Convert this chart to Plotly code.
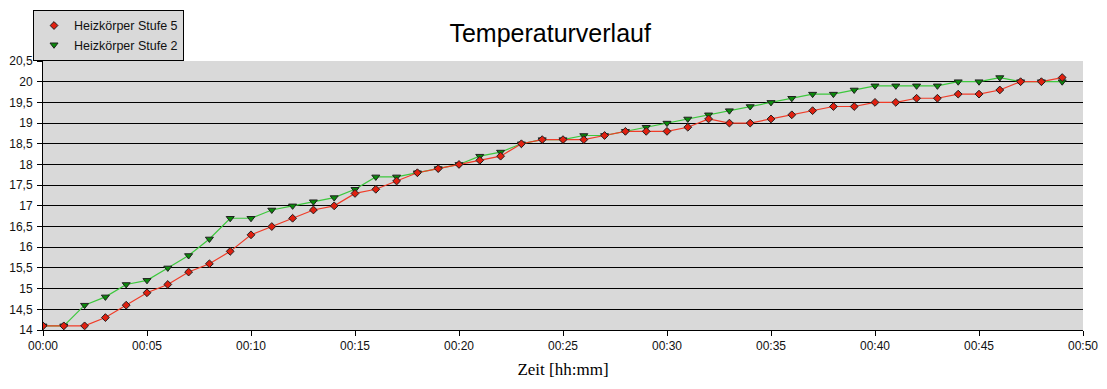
import plotly.graph_objects as go

minutes = list(range(50))
stufe5 = [14.1, 14.1, 14.1, 14.3, 14.6, 14.9, 15.1, 15.4, 15.6, 15.9,
          16.3, 16.5, 16.7, 16.9, 17.0, 17.3, 17.4, 17.6, 17.8, 17.9,
          18.0, 18.1, 18.2, 18.5, 18.6, 18.6, 18.6, 18.7, 18.8, 18.8,
          18.8, 18.9, 19.1, 19.0, 19.0, 19.1, 19.2, 19.3, 19.4, 19.4,
          19.5, 19.5, 19.6, 19.6, 19.7, 19.7, 19.8, 20.0, 20.0, 20.1]
stufe2 = [14.1, 14.1, 14.6, 14.8, 15.1, 15.2, 15.5, 15.8, 16.2, 16.7,
          16.7, 16.9, 17.0, 17.1, 17.2, 17.4, 17.7, 17.7, 17.8, 17.9,
          18.0, 18.2, 18.3, 18.5, 18.6, 18.6, 18.7, 18.7, 18.8, 18.9,
          19.0, 19.1, 19.2, 19.3, 19.4, 19.5, 19.6, 19.7, 19.7, 19.8,
          19.9, 19.9, 19.9, 19.9, 20.0, 20.0, 20.1, 20.0, 20.0, 20.0]
x_tickvals = [0, 5, 10, 15, 20, 25, 30, 35, 40, 45, 50]
x_ticktext = ["00:00", "00:05", "00:10", "00:15", "00:20", "00:25",
              "00:30", "00:35", "00:40", "00:45", "00:50"]
y_tickvals = [14, 14.5, 15, 15.5, 16, 16.5, 17, 17.5, 18, 18.5, 19, 19.5, 20, 20.5]
y_ticktext = ["14", "14,5", "15", "15,5", "16", "16,5", "17", "17,5",
              "18", "18,5", "19", "19,5", "20", "20,5"]

fig = go.Figure()
# lines (no legend)
fig.add_trace(go.Scatter(x=minutes, y=stufe2, mode="lines",
                         line=dict(color="#3cc83c", width=1.2),
                         showlegend=False, hoverinfo="skip"))
fig.add_trace(go.Scatter(x=minutes, y=stufe5, mode="lines",
                         line=dict(color="#f03c28", width=1.2),
                         showlegend=False, hoverinfo="skip"))
# markers (legend)
fig.add_trace(go.Scatter(x=minutes, y=stufe2, mode="markers",
                         name="Heizkörper Stufe 2",
                         marker=dict(symbol="triangle-down", size=7, color="#0a8a0a",
                                     line=dict(color="#202020", width=1))))
fig.add_trace(go.Scatter(x=minutes, y=stufe5, mode="markers",
                         name="Heizkörper Stufe 5",
                         marker=dict(symbol="diamond", size=6, color="#e02010",
                                     line=dict(color="#202020", width=1))))

fig.update_layout(
    width=1107, height=389,
    margin=dict(l=43, r=24, t=61, b=59, autoexpand=False),
    paper_bgcolor="white",
    plot_bgcolor="#d9d9d9",
    font=dict(family="Liberation Sans, Arial, sans-serif", size=12, color="#111111"),
    title=dict(text="Temperaturverlauf", x=0.497, xref="container", xanchor="center",
               y=1 - 33 / 389, yref="container", yanchor="middle",
               font=dict(family="Liberation Sans, Arial, sans-serif", size=25, color="black")),
    legend=dict(x=-0.0096, y=1.19, xanchor="left", yanchor="top",
                bgcolor="#d9d9d9", bordercolor="black", borderwidth=1,
                traceorder="reversed", itemwidth=30,
                font=dict(size=12.5, color="#111111"),
                tracegroupgap=0),
    xaxis=dict(range=[0, 50], tickvals=x_tickvals, ticktext=x_ticktext,
               showgrid=False, zeroline=False, automargin=False,
               showline=True, linecolor="black", linewidth=1,
               ticks="outside", ticklen=5, tickcolor="black",
               title=dict(text="Zeit [hh:mm]", standoff=10,
                          font=dict(family="Liberation Serif, Times New Roman, serif",
                                    size=17, color="black"))),
    yaxis=dict(range=[14, 20.5], tickvals=y_tickvals, ticktext=y_ticktext,
               showgrid=True, gridcolor="black", gridwidth=1.2, zeroline=False,
               automargin=False, ticklabelstandoff=2,
               showline=True, linecolor="black", linewidth=1,
               ticks="outside", ticklen=5, tickcolor="black"),
)

fig.write_html("out.html", config={"displayModeBar": False},
               post_script="document.body.style.margin='0';document.body.style.padding='0';")
